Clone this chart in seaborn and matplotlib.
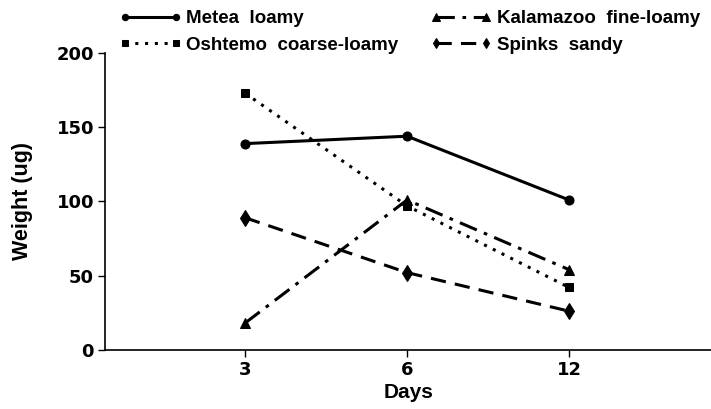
import matplotlib
matplotlib.use("Agg")
import matplotlib.pyplot as plt
import numpy as np
import pandas as pd
import seaborn as sns

# datos
days = ["3", "6", "12"]
soils = ["Metea  loamy", "Oshtemo  coarse-loamy", "Kalamazoo  fine-loamy", "Spinks  sandy"]
metea = [139, 144, 101]
oshtemo = [173, 97, 42]
kalamazoo = [18, 101, 54]
spinks = [89, 52, 26]

values = [metea, oshtemo, kalamazoo, spinks]
markers = ["o", "s", "^", "d"]
msizes = [6.5, 6, 7.5, 8]
dashes = ["-", (0, (1, 2.2)), (0, (6, 2.5, 1.2, 2.5)), (0, (5, 3))]

pos = np.arange(len(days))
df = pd.DataFrame({
    "pos": np.tile(pos, len(soils)),
    "weight": np.concatenate(values),
    "soil": np.repeat(soils, len(days)),
})

sns.set_style("ticks")
plt.rcParams["font.family"] = ["Liberation Sans", "DejaVu Sans"]
plt.rcParams["font.weight"] = "bold"
plt.rcParams["text.color"] = "black"
plt.rcParams["axes.labelcolor"] = "black"

fig = plt.figure(figsize=(7.11, 4.09), dpi=100)
ax = fig.add_axes([0.148, 0.145, 0.852, 0.725])

for soil, mk, ms, ls in zip(soils, markers, msizes, dashes):
    sub = df[df["soil"] == soil]
    sns.lineplot(data=sub, x="pos", y="weight", ax=ax, color="black",
                 marker=mk, markersize=ms, linewidth=2.2,
                 linestyle=ls, markeredgecolor="black", label=soil)

ax.set_xlim(-0.864, 2.877)
ax.set_ylim(0, 200)
ax.set_xticks(pos)
ax.set_xticklabels(days)
ax.set_yticks([0, 50, 100, 150, 200])
ax.tick_params(width=1, length=5, colors="black", pad=3)
for t in ax.get_xticklabels() + ax.get_yticklabels():
    t.set_fontfamily("DejaVu Sans")
    t.set_fontweight("bold")
    t.set_fontsize(13)
ax.set_xlabel("Days", fontsize=15, labelpad=3, fontweight="bold")
ax.set_ylabel("Weight (ug)", fontsize=15.5, labelpad=17, fontweight="bold")
sns.despine(ax=ax)
for s in ["left", "bottom"]:
    ax.spines[s].set_color("black")
    ax.spines[s].set_linewidth(1.2)

handles, labels = ax.get_legend_handles_labels()
ax.get_legend().remove()
fig.legend(handles, labels, ncol=2, loc="upper left", bbox_to_anchor=(0.168, 0.975),
           frameon=False, handlelength=3.3, columnspacing=1.7,
           labelspacing=0.5, handletextpad=0.25, borderpad=0, borderaxespad=0,
           numpoints=2, markerscale=0.7,
           prop={"family": ["Liberation Sans"], "weight": "bold", "size": 13.5})

fig.savefig("out.png", dpi=100)
